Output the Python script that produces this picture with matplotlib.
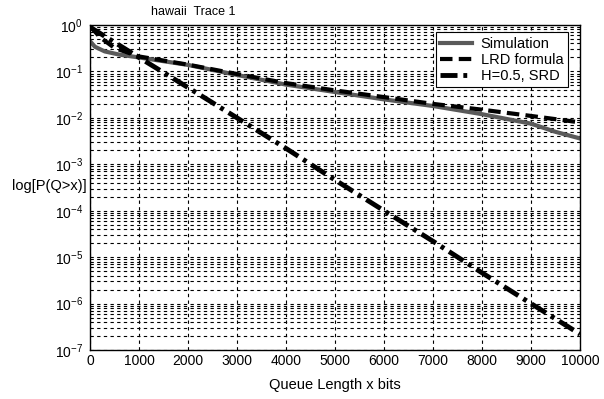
import matplotlib
matplotlib.use("Agg")
import matplotlib.pyplot as plt
from matplotlib.ticker import LogLocator, FixedLocator, NullFormatter

plt.rcParams['font.family'] = ['Liberation Sans', 'DejaVu Sans']
plt.rcParams['mathtext.default'] = 'regular'
plt.rcParams['font.size'] = 10

# values
sim_x = [0, 100, 300, 600, 1000, 2000, 3000, 4000, 5000, 6000, 7000, 8000, 9000, 9500, 10000]
sim_y = [0.45, 0.34, 0.27, 0.23, 0.2, 0.138, 0.084, 0.052, 0.036, 0.025, 0.018, 0.012, 0.0075, 0.005, 0.0036]

lrd_x = [0, 200, 500, 1000, 2000, 3000, 4000, 5000, 6000, 7000, 8000, 9000, 10000]
lrd_y = [0.95, 0.55, 0.32, 0.21, 0.14, 0.088, 0.056, 0.039, 0.028, 0.02, 0.015, 0.011, 0.008]

srd_x = [0, 1000, 2000, 3000, 4000, 5000, 6000, 7000, 8000, 9000, 10000]
srd_y = [0.9, 0.2, 0.045, 0.01, 2.2e-3, 4.6e-4, 1e-4, 2.2e-5, 4.6e-6, 1e-6, 2.2e-7]

xticks = [0, 1000, 2000, 3000, 4000, 5000, 6000, 7000, 8000, 9000, 10000]
yticks = [1e-7, 1e-6, 1e-5, 1e-4, 1e-3, 1e-2, 1e-1, 1]
ytick_labels = ['$10^{-7}$', '$10^{-6}$', '$10^{-5}$', '$10^{-4}$',
                '$10^{-3}$', '$10^{-2}$', '$10^{-1}$', '$10^{0}$']

fig = plt.figure(figsize=(6.04, 3.99), dpi=100)
ax = fig.add_axes([90 / 604, 49 / 399, 490 / 604, 325 / 399])

ax.plot(sim_x, sim_y, color='#5a5a5a', lw=3, label='Simulation')
ax.plot(lrd_x, lrd_y, color='black', lw=3, ls=(0, (3, 1.5)), label='LRD formula')
ax.plot(srd_x, srd_y, color='black', lw=3.5, ls=(0, (3.5, 1.2, 0.8, 1.2)), label='H=0.5, SRD')

ax.set_yscale('log')
ax.set_xlim(0, 10000)
ax.set_ylim(1e-7, 1)
ax.xaxis.set_major_locator(FixedLocator(xticks))
ax.set_yticks(yticks, ytick_labels)
ax.yaxis.set_minor_locator(LogLocator(base=10, subs=range(2, 10), numticks=20))
ax.yaxis.set_minor_formatter(NullFormatter())

ax.grid(True, which='major', axis='both', color='black', ls=(0, (3, 3)), lw=0.8)
ax.grid(True, which='minor', axis='y', color='black', ls=(0, (3, 3)), lw=0.8)
ax.tick_params(which='both', direction='in', length=0)
ax.tick_params(axis='x', labelsize=10, pad=3)
ax.tick_params(axis='y', labelsize=10, pad=5)
for s in ax.spines.values():
    s.set_linewidth(1)
    s.set_color('black')

leg = ax.legend(loc='upper right', fancybox=False, framealpha=1, edgecolor='black',
                fontsize=10.5, handlelength=2.2, borderpad=0.3, labelspacing=0.15,
                handletextpad=0.6, bbox_to_anchor=(0.99, 1.0))
leg.get_frame().set_linewidth(0.8)

fig.text(193 / 604, 1 - 12 / 399, 'hawaii  Trace 1', ha='center', va='center', fontsize=9)
fig.text(87 / 604, 1 - 186 / 399, 'log[P(Q>x)]', ha='right', va='center', fontsize=10.5)
fig.text(335 / 604, 1 - 385 / 399, 'Queue Length x bits', ha='center', va='center', fontsize=10.5)

fig.savefig('out.png', dpi=100)
